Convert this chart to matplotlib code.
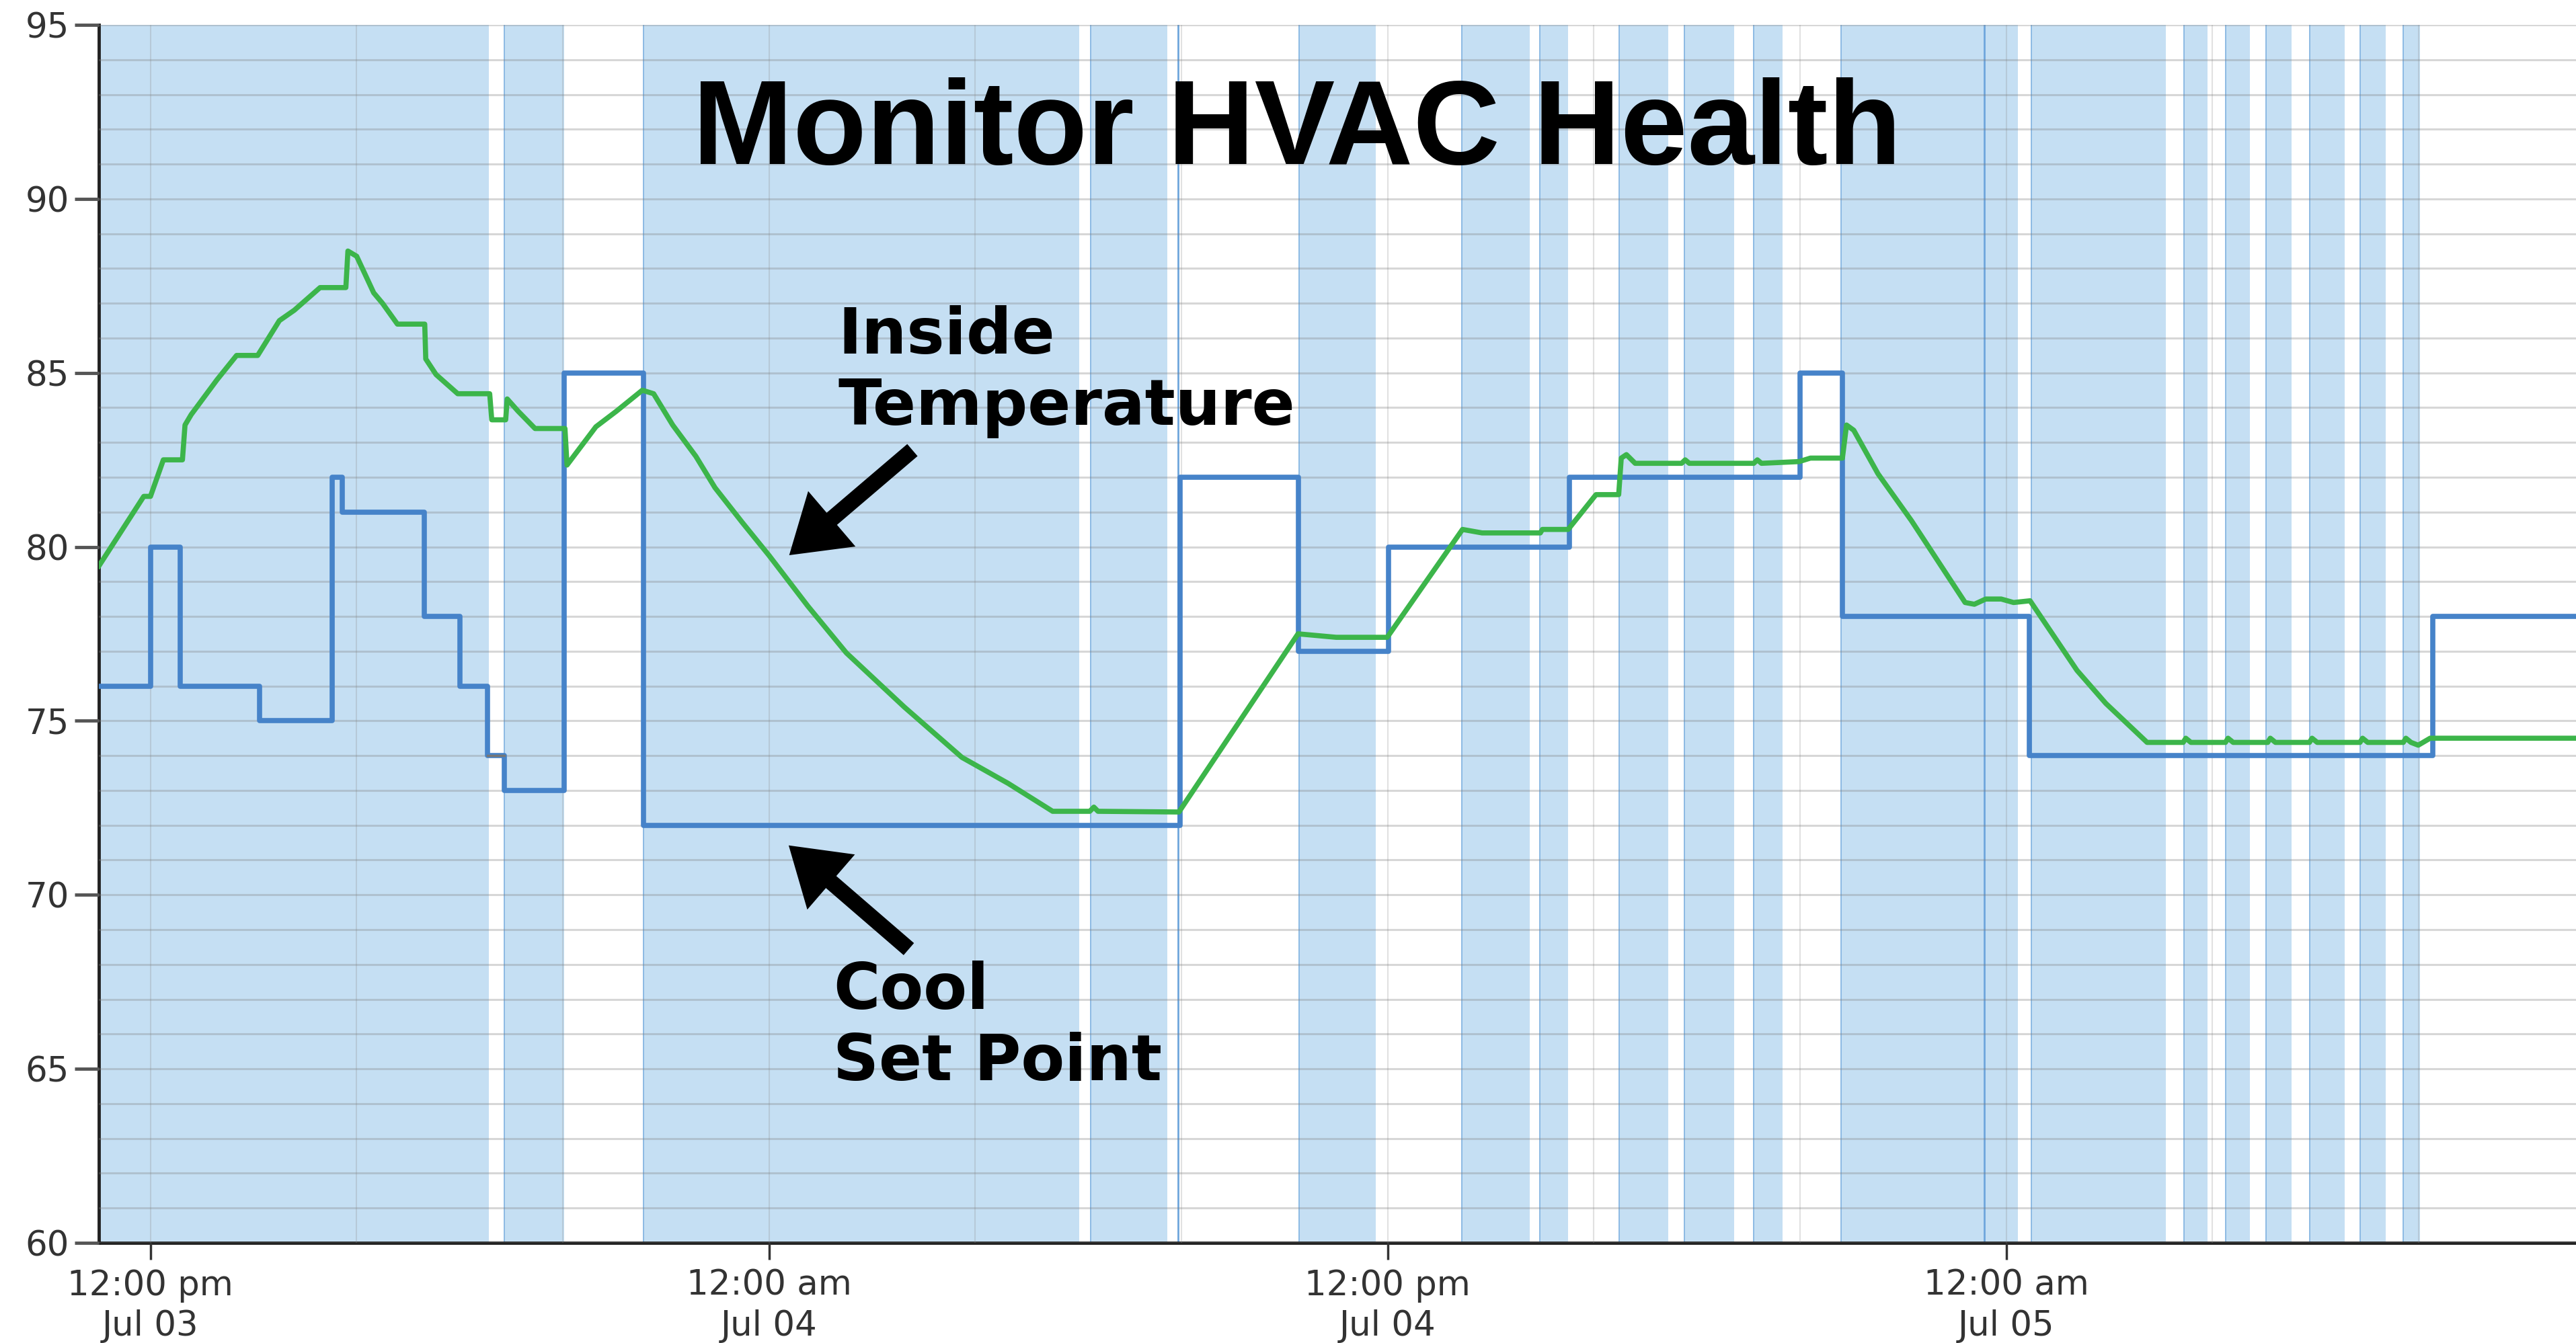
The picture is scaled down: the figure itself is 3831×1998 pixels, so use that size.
import matplotlib
matplotlib.use("Agg")
import matplotlib.pyplot as plt
from matplotlib.ticker import MultipleLocator

# ------------------------
# Datos (horas desde Jul 03 00:00)
# ------------------------
# Cool set point (escalones)
sp_time = [11.0, 12.0, 12.58, 14.12, 15.53, 15.72, 17.31, 18.0, 18.54, 18.86,
           20.03, 21.57, 31.97, 34.27, 36.02, 39.52, 44.0, 44.82, 48.45, 56.27, 59.05]
sp_value = [76, 80, 76, 75, 82, 81, 78, 76, 74, 73,
            85, 72, 82, 77, 80, 82, 85, 78, 74, 78, 78]

# Inside temperature
in_time = [11.0, 11.87, 12.0, 12.25, 12.62, 12.67, 12.79, 13.29, 13.67, 14.08,
           14.5, 14.79, 15.29, 15.79, 15.83, 16.0, 16.33, 16.5, 16.79, 17.32,
           17.34, 17.54, 17.96, 18.58, 18.62, 18.89, 18.92, 19.13, 19.46, 20.04,
           20.08, 20.64, 21.04, 21.54, 21.76, 22.13, 22.58, 22.95, 23.48, 24.0,
           24.75, 25.5, 26.62, 27.74, 28.64, 29.5, 30.22, 30.3, 30.38, 31.95,
           34.26, 35.0, 35.99, 37.45, 37.83, 38.96, 39.0, 39.5, 40.04, 40.48,
           40.53, 40.63, 40.8, 41.7, 41.77, 41.85, 43.1, 43.17, 43.25, 43.98,
           44.2, 44.82, 44.9, 45.04, 45.51, 46.16, 47.2, 47.38, 47.6, 47.9,
           48.14, 48.46, 49.37, 49.93, 50.73, 51.43, 51.48, 51.58, 52.25, 52.3,
           52.4, 53.07, 53.12, 53.22, 53.88, 53.93, 54.03, 54.86, 54.91, 55.01,
           55.7, 55.75, 55.85, 55.99, 56.22, 59.05]
in_value = [79.45, 81.45, 81.45, 82.5, 82.5, 83.5, 83.8, 84.8, 85.5, 85.5,
            86.5, 86.8, 87.45, 87.45, 88.5, 88.35, 87.3, 87.0, 86.4, 86.4,
            85.4, 84.95, 84.4, 84.4, 83.65, 83.65, 84.25, 83.9, 83.4, 83.4,
            82.35, 83.45, 83.9, 84.5, 84.4, 83.5, 82.6, 81.7, 80.7, 79.75,
            78.3, 76.95, 75.4, 73.95, 73.2, 72.4, 72.4, 72.52, 72.4, 72.38,
            77.5, 77.4, 77.4, 80.5, 80.4, 80.4, 80.5, 80.5, 81.5, 81.5,
            82.55, 82.65, 82.4, 82.4, 82.5, 82.4, 82.4, 82.5, 82.4, 82.45,
            82.55, 82.55, 83.5, 83.35, 82.1, 80.75, 78.4, 78.35, 78.5, 78.5,
            78.4, 78.45, 76.45, 75.5, 74.38, 74.38, 74.5, 74.38, 74.38, 74.5,
            74.38, 74.38, 74.5, 74.38, 74.38, 74.5, 74.38, 74.38, 74.5, 74.38,
            74.38, 74.5, 74.38, 74.3, 74.5, 74.5]

# Periodos con enfriamiento encendido (inicio, fin)
cool_on = [(10.9, 18.56), (18.86, 20.03), (21.56, 30.02), (30.24, 31.73),
           (34.28, 35.77), (37.44, 38.75), (38.95, 39.50), (40.49, 41.44),
           (41.75, 42.72), (43.10, 43.66), (44.80, 48.22), (48.48, 51.09),
           (51.44, 51.90), (52.25, 52.72), (53.04, 53.53), (53.88, 54.56),
           (54.86, 55.36), (55.70, 56.02)]
short_cycles = [31.93, 47.57]

x_ticks = [12, 24, 36, 48]
x_labels = ['12:00 pm\nJul 03', '12:00 am\nJul 04', '12:00 pm\nJul 04', '12:00 am\nJul 05']

# ------------------------
# Figura
# ------------------------
fig = plt.figure(figsize=(38.31, 19.98), dpi=100)
ax = fig.add_axes([0.0384, 0.0746, 0.9616, 0.9069])

band_col = '#c5dff3'
for start, end in cool_on:
    ax.axvspan(start, end, color=band_col, lw=0, zorder=0)
    ax.axvline(start, color='#86b6e2', lw=1.3, zorder=0.5)
for t in short_cycles:
    ax.axvline(t, color='#6fa6dc', lw=2, zorder=0.5)

ax.step(sp_time, sp_value, where='post', color='#4683c9', lw=5.5, zorder=3)
# tramo del set point fuera de servicio (gris)
ax.plot(sp_time[8:10], sp_value[8:9] * 2, color='#777777', lw=2.5, zorder=3.5)
ax.plot(in_time, in_value, color='#3cb54a', lw=5.5, zorder=4)

ax.set_xlim(11.0, 59.05)
ax.set_ylim(60, 95)

ax.set_yticks(range(60, 96, 5))
ax.yaxis.set_minor_locator(MultipleLocator(1))
ax.set_xticks(x_ticks)
ax.set_xticklabels(x_labels, linespacing=1.25)
ax.xaxis.set_minor_locator(MultipleLocator(4))

ax.grid(which='both', axis='y', color='#7d7d7d', alpha=0.3, lw=2.2, zorder=1)
ax.grid(which='both', axis='x', color='#8a8a8a', alpha=0.25, lw=1.5, zorder=1)
ax.set_axisbelow(False)

ax.tick_params(axis='y', which='major', length=26, width=3.5, color='#555555',
               labelsize=37, labelcolor='#333333', pad=6)
ax.tick_params(axis='x', which='major', length=18, width=2.5, color='#333333',
               labelsize=37, labelcolor='#333333', pad=10)
ax.tick_params(which='minor', length=0)

for side in ['top', 'right']:
    ax.spines[side].set_visible(False)
for side in ['left', 'bottom']:
    ax.spines[side].set_color('#222222')
    ax.spines[side].set_linewidth(3.5)

# ------------------------
# Textos y flechas
# ------------------------
ax.text(34.24, 91.0, 'Monitor HVAC Health', ha='center', va='baseline',
        fontsize=129, fontweight='bold', family='Liberation Sans', zorder=6)

ax.text(25.34, 86.95, 'Inside\nTemperature', ha='left', va='top', fontsize=68,
        fontweight='bold', family='DejaVu Sans', linespacing=1.2, zorder=6)
ax.text(25.24, 68.12, 'Cool\nSet Point', ha='left', va='top', fontsize=68,
        fontweight='bold', family='DejaVu Sans', linespacing=1.2, zorder=6)

arrow = dict(facecolor='black', edgecolor='none', width=17, headwidth=78,
             headlength=60, shrink=0)
ax.annotate('', xy=(24.39, 79.76), xytext=(26.78, 82.78), arrowprops=arrow, zorder=6)
ax.annotate('', xy=(24.38, 71.42), xytext=(26.71, 68.44), arrowprops=arrow, zorder=6)

fig.savefig('out.png', dpi=100)
